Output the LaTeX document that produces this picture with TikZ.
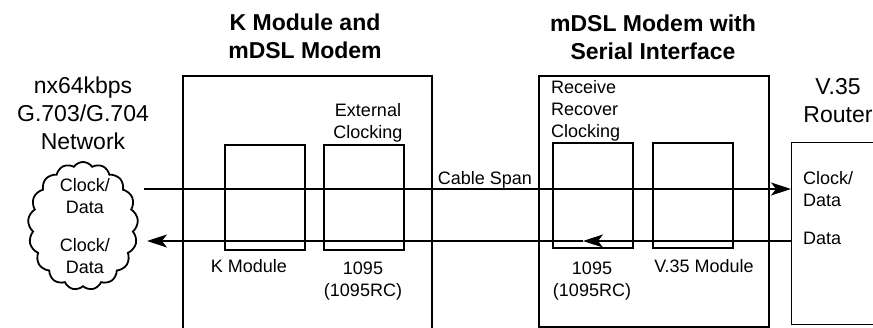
\documentclass[tikz,border=0pt]{standalone}
\usepackage{fontspec}
\setmainfont{Liberation Sans}
\usetikzlibrary{arrows.meta,shapes.symbols}
\tikzset{
  outerbox/.style={draw, line width=2.3pt, inner sep=0pt, anchor=north west},
  modbox/.style={draw, line width=2.3pt, inner sep=0pt, minimum width=80pt, minimum height=105pt},
  lbl/.style={font=\fontsize{18}{22}\selectfont, align=center, inner sep=0pt},
  lbll/.style={font=\fontsize{18}{22}\selectfont, align=left, inner sep=0pt, anchor=west},
  big/.style={font=\fontsize{23}{28}\selectfont, align=center, inner sep=0pt},
  ttl/.style={font=\fontsize{23}{28}\selectfont\bfseries, align=center, inner sep=0pt},
  conn/.style={line width=1.1pt},
  tip/.style={-{Stealth[length=20pt,width=13pt,inset=5pt]}}
}
\begin{document}
\begin{tikzpicture}[x=1pt,y=-1pt]
\useasboundingbox (0,0) rectangle (873,328);
\clip (0,0) rectangle (873,328);
% cloud
\node[cloud, draw, line width=1.8pt, cloud puffs=17, cloud puff arc=110,
      cloud ignores aspect, minimum width=110pt, minimum height=128pt, inner sep=0pt] (net) at (83,226) {};
\node[big] (nettxt) at (83,113) {nx64kbps\\G.703/G.704\\Network};
\node[lbl] (ncd1) at (85,196) {Clock/\\Data};
\node[lbl] (ncd2) at (85,256.5) {Clock/\\Data};
% K module and mDSL modem
\node[ttl] (t1) at (305,36) {K Module and\\mDSL Modem};
\node[outerbox, minimum width=249pt, minimum height=275pt] (kbox) at (182,75) {};
\node[modbox] (kmod) at (265,197.5) {};
\node[modbox] (m1) at (364,197.5) {};
\node[lbl] (ext) at (368,123) {External\\Clocking};
\node[lbl] (kl) at (249,266.5) {K Module};
\node[lbl] (m1l) at (363,281.5) {1095\\(1095RC)};
% mDSL modem with serial interface
\node[ttl] (t2) at (653,37) {mDSL Modem with\\Serial Interface};
\node[outerbox, minimum width=230pt, minimum height=251pt] (sbox) at (538,75) {};
\node[modbox] (m2) at (593,195.5) {};
\node[modbox] (v35) at (693,195.5) {};
\node[lbll] (rrc) at (551,110.5) {Receive\\Recover\\Clocking};
\node[lbl] (m2l) at (592,281.5) {1095\\(1095RC)};
\node[lbl] (v35l) at (704,266.5) {V.35 Module};
% router
\node[big] (rt) at (838,101) {V.35\\Router};
\node[draw, line width=1.1pt, inner sep=0pt, anchor=north west, minimum width=100pt, minimum height=182pt] (router) at (791,142) {};
\node[lbll] (rcd) at (803,189.5) {Clock/\\Data};
\node[lbll] (rd) at (803,238.5) {Data};
% connectors
\coordinate (ustart) at (144,189);
\coordinate (lend) at (147,241);
\coordinate (midtip) at (583,241);
\draw[conn, tip] (ustart) -- (ustart -| router.west);
\node[lbl] (cable) at (485,179.5) {Cable Span};
\draw[conn, tip] (lend -| router.west) -- (midtip);
\draw[conn, tip] (midtip) -- (lend);
\end{tikzpicture}
\end{document}
